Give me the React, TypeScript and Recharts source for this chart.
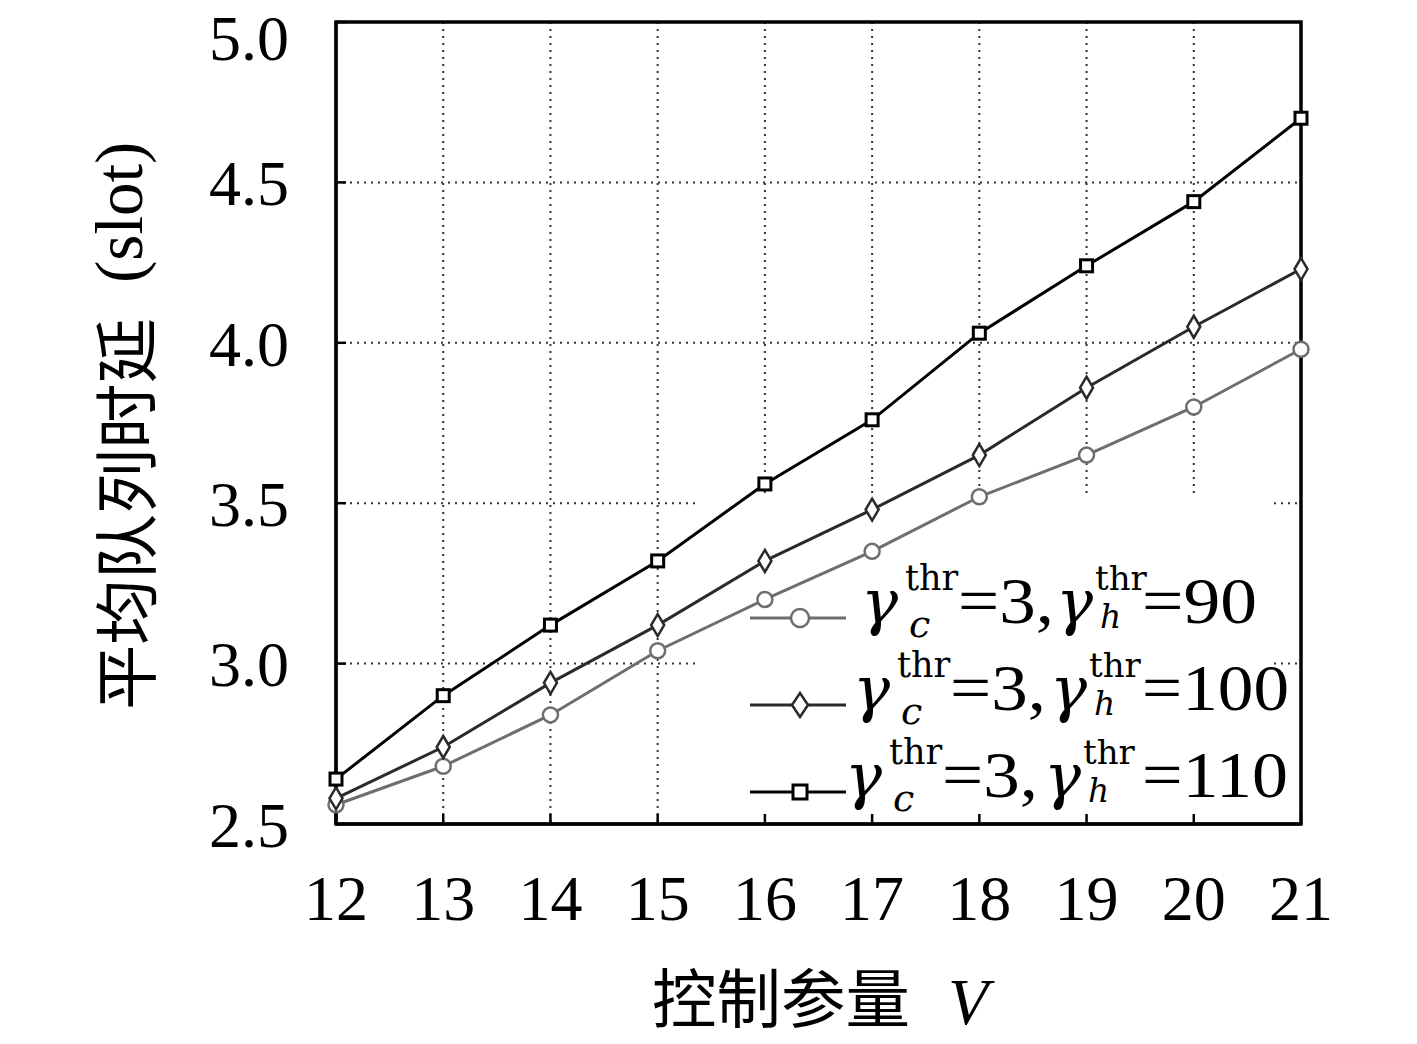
import React from 'react';
import { LineChart, Line, XAxis, YAxis, CartesianGrid, ReferenceArea, Legend } from 'recharts';

// control parameter V
const vValues = [12, 13, 14, 15, 16, 17, 18, 19, 20, 21];

// average queue delay (slot), gamma_c^thr = 3
const delayH90 = [2.56, 2.68, 2.84, 3.04, 3.2, 3.35, 3.52, 3.65, 3.8, 3.98];
const delayH100 = [2.58, 2.74, 2.94, 3.12, 3.32, 3.48, 3.65, 3.86, 4.05, 4.23];
const delayH110 = [2.64, 2.9, 3.12, 3.32, 3.56, 3.76, 4.03, 4.24, 4.44, 4.7];

const yTicks = [2.5, 3.0, 3.5, 4.0, 4.5, 5.0];
const hThresholds = ['90', '100', '110'];

const data = vValues.map((v, i) => ({
  v,
  h90: delayH90[i],
  h100: delayH100[i],
  h110: delayH110[i],
}));

const SERIF = '"Liberation Serif", "Times New Roman", serif';
const DSERIF = '"DejaVu Serif", serif';
const CJK = '"Noto Sans CJK SC", sans-serif';

const COLORS = ['#6e6e6e', '#2a2a2a', '#000000'];

const CircleDot = (props: any) => {
  const { cx, cy } = props;
  if (cx == null || cy == null) return null;
  return <circle key={props.key} cx={cx} cy={cy} r={7.5} fill="#fff" stroke={COLORS[0]} strokeWidth={2.5} />;
};

const DiamondDot = (props: any) => {
  const { cx, cy } = props;
  if (cx == null || cy == null) return null;
  return (
    <polygon
      key={props.key}
      points={`${cx},${cy - 11} ${cx + 6.5},${cy} ${cx},${cy + 11} ${cx - 6.5},${cy}`}
      fill="#fff"
      stroke={COLORS[1]}
      strokeWidth={2.5}
    />
  );
};

const SquareDot = (props: any) => {
  const { cx, cy } = props;
  if (cx == null || cy == null) return null;
  return <rect key={props.key} x={cx - 6} y={cy - 6} width={12} height={12} fill="#fff" stroke={COLORS[2]} strokeWidth={3} />;
};

// a piece of the legend formula
const Piece = ({ x, y, w, size, italic, font, children }: any) => (
  <text
    x={x}
    y={y}
    textLength={w}
    lengthAdjust={w ? 'spacingAndGlyphs' : undefined}
    fontFamily={font || SERIF}
    fontSize={size}
    fontStyle={italic ? 'italic' : 'normal'}
    fill="#000"
  >
    {children}
  </text>
);

// one legend entry: gamma_c^thr=3, gamma_h^thr=<h>
function LegendRow({ idx, h }: { idx: number; h: string }) {
  const c = COLORS[idx];
  const ly = 44;
  const base = ly + 5;
  const a = [0, -8, -16][idx];
  const b = [0, -6, -12][idx];
  const eqW = [115, 147, 146][idx];
  return (
    <g transform={`translate(0, ${idx * 87})`}>
      <line x1={2} y1={ly} x2={98} y2={ly} stroke={c} strokeWidth={3} />
      {idx === 0 && <circle cx={52} cy={ly} r={9} fill="#fff" stroke={c} strokeWidth={2.5} />}
      {idx === 1 && <polygon points={`52,${ly - 12} 60,${ly} 52,${ly + 12} 44,${ly}`} fill="#fff" stroke={c} strokeWidth={2.5} />}
      {idx === 2 && <rect x={45} y={ly - 7} width={14} height={14} fill="#fff" stroke={c} strokeWidth={3} />}
      <Piece x={113 + a} y={base} size={62} italic font={DSERIF}>γ</Piece>
      <Piece x={157 + a} y={base - 33} size={35} font={DSERIF}>thr</Piece>
      <Piece x={161 + a} y={base + 14} size={38} italic font={DSERIF}>c</Piece>
      <Piece x={210 + a} y={base} w={96} size={66}>=3,</Piece>
      <Piece x={308 + b} y={base} size={62} italic font={DSERIF}>γ</Piece>
      <Piece x={347 + b} y={base - 33} size={34} font={DSERIF}>thr</Piece>
      <Piece x={352 + b} y={base + 5} size={33} italic font={DSERIF}>h</Piece>
      <Piece x={394} y={base} w={eqW} size={66}>={h}</Piece>
    </g>
  );
}

function LegendBox() {
  return (
    <svg width={560} height={270} style={{ overflow: 'visible' }}>
      {hThresholds.map((h, i) => (
        <LegendRow key={h} idx={i} h={h} />
      ))}
    </svg>
  );
}

const YLabel = () => (
  <g transform="translate(150, 710) rotate(-90)">
    <text x={0} y={0} textLength={392} lengthAdjust="spacingAndGlyphs" fontFamily={CJK} fontSize={64} fill="#000">
      平均队列时延
    </text>
    <text x={427} y={-8} fontFamily={SERIF} fontSize={67} fill="#000">
      (slot)
    </text>
  </g>
);

const XLabel = () => (
  <g>
    <text x={652} y={1022} textLength={258} lengthAdjust="spacingAndGlyphs" fontFamily={CJK} fontSize={64} fill="#000">
      控制参量
    </text>
    <text x={948} y={1024} fontFamily={SERIF} fontSize={66} fontStyle="italic" fill="#000">
      V
    </text>
  </g>
);

export default function App() {
  return (
    <div style={{ position: 'absolute', left: 0, top: 0, background: '#fff' }}>
      <LineChart width={1417} height={1044} data={data} margin={{ top: 22, right: 116, bottom: 0, left: 0 }}>
        <CartesianGrid stroke="#333" strokeWidth={2} strokeDasharray="2 5" />
        <ReferenceArea x1={15.37} x2={20.74} y1={2.5} y2={3.53} fill="#fff" fillOpacity={1} stroke="none" />
        <ReferenceArea x1={12} x2={21} y1={2.5} y2={5} fill="none" stroke="#000" strokeWidth={3.5} />
        <XAxis
          dataKey="v"
          type="number"
          domain={[12, 21]}
          ticks={vValues}
          height={220}
          axisLine={{ stroke: '#000', strokeWidth: 3 }}
          tickLine={{ stroke: '#000', strokeWidth: 2.5 }}
          tickSize={-10}
          tickMargin={61}
          tick={{ fontFamily: SERIF, fontSize: 64, fill: '#000' }}
          label={<XLabel />}
        />
        <XAxis
          xAxisId="top"
          orientation="top"
          dataKey="v"
          type="number"
          domain={[12, 21]}
          ticks={vValues}
          height={0}
          axisLine={{ stroke: '#000', strokeWidth: 3 }}
          tickLine={{ stroke: '#000', strokeWidth: 2.5 }}
          tickSize={-10}
          tick={false}
        />
        <YAxis
          type="number"
          domain={[2.5, 5]}
          ticks={yTicks}
          width={336}
          axisLine={{ stroke: '#000', strokeWidth: 3 }}
          tickLine={{ stroke: '#000', strokeWidth: 2.5 }}
          tickSize={-10}
          tickMargin={57}
          tickFormatter={(t: number) => t.toFixed(1)}
          tick={{ fontFamily: SERIF, fontSize: 64, fill: '#000' }}
          label={<YLabel />}
        />
        <YAxis
          yAxisId="right"
          orientation="right"
          type="number"
          domain={[2.5, 5]}
          ticks={yTicks}
          width={0}
          axisLine={{ stroke: '#000', strokeWidth: 3 }}
          tickLine={{ stroke: '#000', strokeWidth: 2.5 }}
          tickSize={-10}
          tick={false}
        />
        <Line dataKey="h90" stroke={COLORS[0]} strokeWidth={3} dot={CircleDot} isAnimationActive={false} />
        <Line dataKey="h100" stroke={COLORS[1]} strokeWidth={3} dot={DiamondDot} isAnimationActive={false} />
        <Line dataKey="h110" stroke={COLORS[2]} strokeWidth={3} dot={SquareDot} isAnimationActive={false} />
        <Legend
          layout="vertical"
          align="center"
          verticalAlign="middle"
          content={<LegendBox />}
          wrapperStyle={{ position: 'absolute', left: 748, top: 574, width: 560, height: 270 }}
        />
      </LineChart>
    </div>
  );
}
